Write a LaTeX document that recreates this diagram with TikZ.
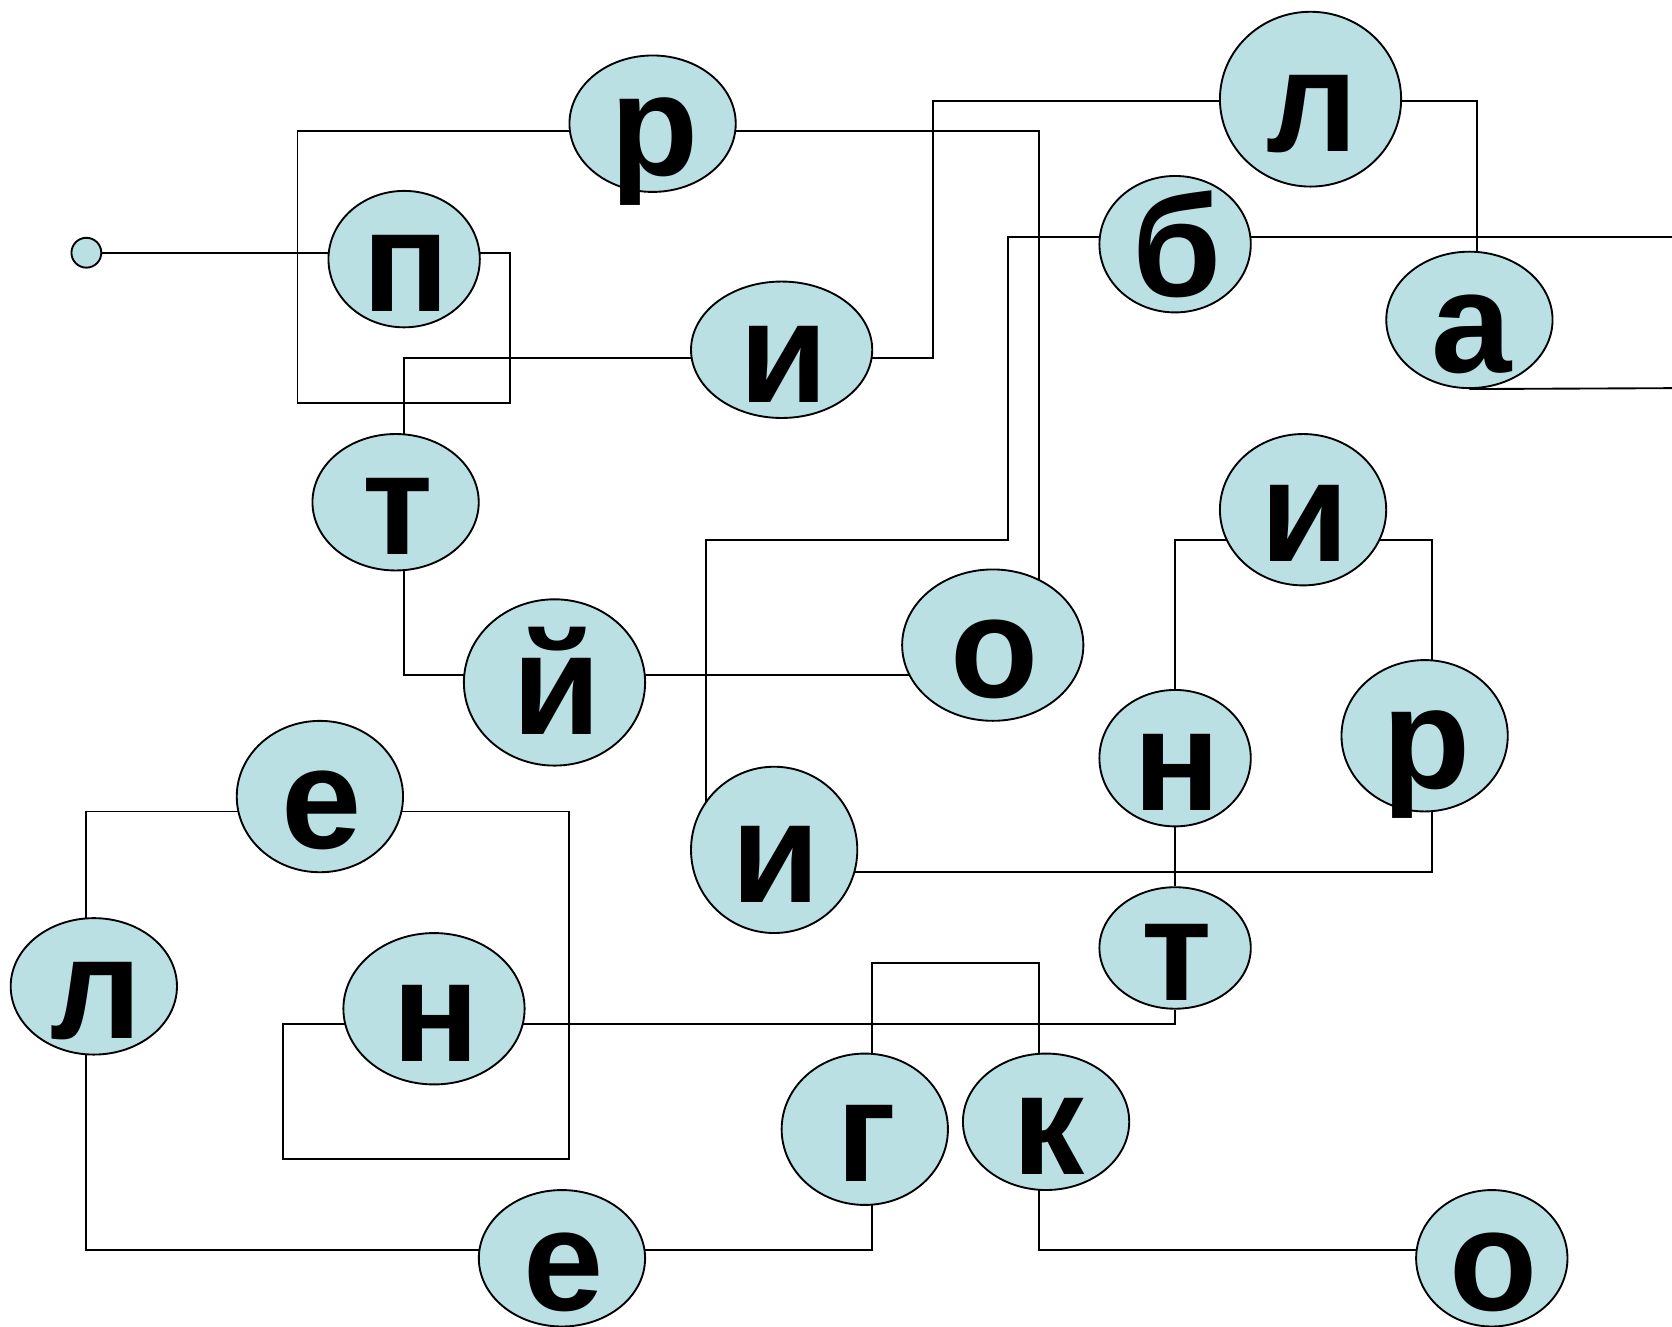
\documentclass[tikz,border=0pt]{standalone}
\usepackage{fontspec}
\setmainfont{Liberation Sans}
\usetikzlibrary{shapes.geometric}
\pgfdeclarelayer{bg}
\pgfsetlayers{bg,main}
\definecolor{ballfill}{RGB}{186,224,227}
\tikzset{
  ball/.style={ellipse, draw=black, line width=1pt, fill=ballfill, inner sep=0pt},
  letter/.style={anchor=base, inner sep=0pt, font=\fontsize{77}{80}\selectfont\bfseries},
  wire/.style={line width=1pt, black}
}
\newcommand{\ball}[6]{% name, x, y, rx, ry, letter
  \node[ball, minimum width=#4*0.04cm, minimum height=#5*0.04cm] (#1) at (#2,#3) {};
  \node[letter] (#1t) at ([shift={(2,49)}]#1.center) {#6};
}
\begin{document}
\begin{tikzpicture}[x=0.02cm, y=-0.02cm]
\useasboundingbox (0,0) rectangle (1568,1244);
\node[ball, minimum size=0.56cm] (s) at (81,237) {};
\ball{r1}{612}{116}{78}{64}{р}
\ball{p1}{379}{243}{71}{64}{п}
\ball{i1}{733}{328}{85}{64}{и}
\ball{l1}{1229}{93}{85}{82}{л}
\ball{b1}{1102}{229}{71}{64}{б}
\ball{a1}{1378}{300}{78}{64}{а}
\ball{t1}{371}{471}{78}{64}{т}
\ball{j1}{520}{640}{85}{78}{й}
\ball{o1}{931}{605}{85}{71}{о}
\ball{i2}{1222}{478}{78}{71}{и}
\ball{n2}{1102}{711}{71}{64}{н}
\ball{r2}{1336}{690}{78}{71}{р}
\ball{i3}{726}{797}{78}{78}{и}
\ball{e1}{300}{747}{78}{71}{е}
\ball{l2}{88}{925}{78}{64}{л}
\ball{n1}{407}{946}{85}{71}{н}
\ball{t2}{1102}{889}{71}{57}{т}
\ball{g1}{811}{1059}{78}{71}{г}
\ball{k1}{981}{1052}{78}{64}{к}
\ball{e2}{527}{1180}{78}{64}{е}
\ball{o2}{1399}{1180}{71}{64}{о}
\coordinate (eR1) at (1568,222);
\coordinate (eR2) at (1568,364);
\begin{pgfonlayer}{bg}
\draw[wire] (s) -- (s -| p1);
\draw[wire] (r1 |- 0,123) -- (279,123) -- (279,378) -- (478,378) -- (478,237) -- (p1 |- 0,237);
\draw[wire] (r1 |- 0,123) -- (974,123) -- (974,0 |- o1);
\draw[wire] (i1 |- 0,336) -- (379,336) -- (379,0 |- t1);
\draw[wire] (i1 |- 0,336) -- (875,336) -- (875,95) -- (l1 |- 0,95);
\draw[wire] (l1 |- 0,95) -- (1385,95) -- (1385,0 |- a1);
\draw[wire] (b1 |- 0,222) -- (eR1);
\draw[wire] (a1.south) -- (eR2);
\draw[wire] (b1 |- 0,222) -- (945,222) -- (945,506) -- (662,506) -- (662,0 |- i3);
\draw[wire] (379,0 |- t1) -- (379,633) -- (j1 |- 0,633);
\draw[wire] (j1 |- 0,633) -- (o1 |- 0,633);
\draw[wire] (i2 |- 0,506) -- (1102,506) -- (n2);
\draw[wire] (i2 |- 0,506) -- (1343,506) -- (1343,0 |- r2);
\draw[wire] (n2) -- (t2);
\draw[wire] (i3 |- 0,818) -- (1343,818) -- (1343,0 |- r2);
\draw[wire] (e1 |- 0,761) -- (81,761) -- (81,0 |- l2);
\draw[wire] (e1 |- 0,761) -- (534,761) -- (534,1087) -- (265,1087) -- (265,960) -- (n1 |- 0,960);
\draw[wire] (n1 |- 0,960) -- (1102,960) -- (t2);
\draw[wire] (81,0 |- l2) -- (81,1172) -- (e2 |- 0,1172);
\draw[wire] (e2 |- 0,1172) -- (818,1172) -- (818,0 |- g1);
\draw[wire] (818,0 |- g1) -- (818,903) -- (974,903) -- (974,0 |- k1);
\draw[wire] (974,0 |- k1) -- (974,1172) -- (o2 |- 0,1172);
\end{pgfonlayer}
\end{tikzpicture}
\end{document}
